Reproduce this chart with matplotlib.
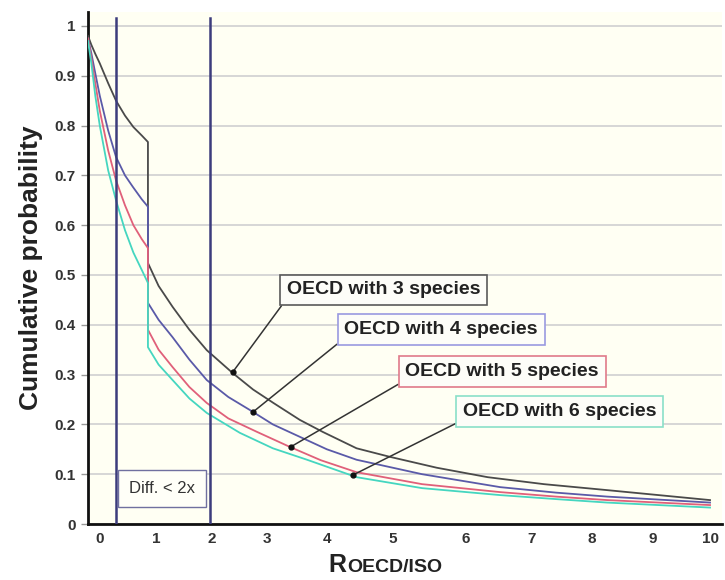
import numpy as np
import matplotlib
matplotlib.use("Agg")
import matplotlib.pyplot as plt

plt.rcParams["font.family"] = ["Liberation Sans", "DejaVu Sans"]

# --------------------------------------------------------------------------- #
# Data                                            #
# --------------------------------------------------------------------------- #
species = ["3", "4", "5", "6"]

x3 = [-0.21, -0.15, -0.08, 0, 0.15, 0.29, 0.45, 0.6, 0.75, 0.86, 0.86, 1.05,
      1.3, 1.6, 1.91, 2.38, 2.75, 3.11, 3.55, 3.93, 4.45, 4.95, 5.6, 6.33,
      7.2, 8.25, 9.1, 10]
y3 = [0.98, 0.962, 0.944, 0.925, 0.885, 0.85, 0.82, 0.797, 0.78, 0.767, 0.524,
      0.478, 0.436, 0.39, 0.349, 0.303, 0.27, 0.243, 0.209, 0.185, 0.152,
      0.135, 0.113, 0.094, 0.08, 0.068, 0.058, 0.048]

x4 = [-0.21, -0.15, -0.08, 0, 0.15, 0.29, 0.45, 0.59, 0.75, 0.86, 0.86, 1.05,
      1.3, 1.6, 1.91, 2.3, 2.69, 3.1, 3.55, 4.0, 4.45, 5.4, 6.52, 7.4, 8.25,
      9.1, 10]
y4 = [0.975, 0.945, 0.905, 0.86, 0.79, 0.737, 0.70, 0.677, 0.652, 0.637, 0.444,
      0.41, 0.375, 0.33, 0.289, 0.255, 0.229, 0.2, 0.175, 0.15, 0.129, 0.1,
      0.074, 0.063, 0.055, 0.049, 0.043]

x5 = [-0.21, -0.15, -0.08, 0, 0.15, 0.29, 0.45, 0.6, 0.75, 0.86, 0.86, 1.05,
      1.3, 1.6, 1.91, 2.3, 2.82, 3.38, 3.9, 4.45, 5.4, 6.52, 7.4, 8.25, 9.1,
      10]
y5 = [0.975, 0.935, 0.885, 0.83, 0.75, 0.69, 0.64, 0.6, 0.572, 0.554, 0.39,
      0.35, 0.315, 0.275, 0.243, 0.212, 0.185, 0.155, 0.128, 0.104, 0.08,
      0.064, 0.055, 0.048, 0.043, 0.038]

x6 = [-0.21, -0.15, -0.08, 0, 0.15, 0.29, 0.45, 0.6, 0.75, 0.86, 0.86, 1.05,
      1.3, 1.6, 1.91, 2.51, 3.1, 3.67, 4.45, 5.4, 6.52, 7.4, 8.25, 9.1, 10]
y6 = [0.97, 0.925, 0.86, 0.8, 0.71, 0.65, 0.59, 0.545, 0.51, 0.484, 0.355,
      0.32, 0.289, 0.252, 0.223, 0.183, 0.152, 0.129, 0.094, 0.072, 0.058,
      0.05, 0.043, 0.038, 0.033]

# callouts: point on curve and centre of the label box
point_x = [2.38, 2.75, 3.40, 4.39]
point_y = [0.305, 0.225, 0.155, 0.098]
label_x = [4.86, 5.66, 6.55, 7.46]
label_y = [0.47, 0.39, 0.306, 0.226]

# the two vertical markers bounding the "Diff. < 2x" band
band_lo, band_hi = 0.29, 1.96

x_ticks = list(range(0, 11))
y_ticks = [round(0.1 * i, 1) for i in range(11)]
y_labels = ["0"] + [f"{v:g}" for v in y_ticks[1:-1]] + ["1"]

# --------------------------------------------------------------------------- #
# The original x axis is not evenly spaced; mimic it with a piecewise scale    #
# --------------------------------------------------------------------------- #
tick_px = np.array([100, 156, 212, 267, 327, 393, 466, 532, 592, 653, 710], float)
tick_val = np.array(x_ticks, float)


def fwd(x):
    x = np.asarray(x, float)
    out = np.interp(x, tick_val, tick_px)
    out = np.where(x < 0, tick_px[0] + x * 56.0, out)
    out = np.where(x > 10, tick_px[-1] + (x - 10) * 57.0, out)
    return out


def inv(p):
    p = np.asarray(p, float)
    out = np.interp(p, tick_px, tick_val)
    out = np.where(p < tick_px[0], (p - tick_px[0]) / 56.0, out)
    out = np.where(p > tick_px[-1], 10 + (p - tick_px[-1]) / 57.0, out)
    return out


colors = ["#4a4a4a", "#5a5aa8", "#e0607a", "#45d6c0"]
box_edges = ["#5a5a5a", "#9a9ae0", "#e07a8a", "#8ae0c8"]

fig = plt.figure(figsize=(7.25, 5.8), dpi=100)
ax = fig.add_axes([88 / 725, 56 / 580, (722 - 88) / 725, (524 - 12) / 580])
ax.set_facecolor("#fffff3")
ax.set_xscale("function", functions=(fwd, inv))
ax.set_xlim(-0.21, 10.21)
ax.set_ylim(0, 1.028)

ax.set_yticks(y_ticks)
ax.set_yticklabels(y_labels)
ax.set_xticks(x_ticks)
ax.set_xticklabels([str(t) for t in x_ticks])
ax.tick_params(axis="y", length=5, width=1, color="#999999", pad=4,
               labelsize=11, labelcolor="#333333")
ax.tick_params(axis="x", length=0, pad=6, labelsize=11, labelcolor="#333333")
for lab in ax.get_xticklabels() + ax.get_yticklabels():
    lab.set_fontweight("bold")

ax.grid(axis="y", color="#d6d6d6", lw=1.4)
ax.set_axisbelow(True)
for side in ("top", "right"):
    ax.spines[side].set_visible(False)
for side in ("left", "bottom"):
    ax.spines[side].set_linewidth(2)
    ax.spines[side].set_color("#111111")

for xs, ys, c in zip([x3, x4, x5, x6], [y3, y4, y5, y6], colors):
    ax.plot(xs, ys, color=c, lw=1.3, zorder=3)

for xv in (band_lo, band_hi):
    ax.axvline(xv, ymax=(1.015 / 1.028), color="#3c3c7c", lw=1.8, zorder=4)

ax.text((band_lo + band_hi) / 2 - 0.02, 0.071, "Diff. < 2x", ha="center",
        va="center", fontsize=12, color="#333333", zorder=5,
        bbox=dict(boxstyle="square,pad=0.65", fc="#fffff8", ec="#7070a0", lw=1))

for i, sp in enumerate(species):
    ax.annotate(f"OECD with {sp} species", xy=(point_x[i], point_y[i]),
                xytext=(label_x[i], label_y[i]), ha="center", va="center",
                fontsize=14, fontweight="bold", color="#222222", zorder=6,
                bbox=dict(boxstyle="square,pad=0.35", fc="#fdfdf8",
                          ec=box_edges[i], lw=1.2),
                arrowprops=dict(arrowstyle="-", color="#333333", lw=1.1,
                                relpos=(0, 0), shrinkA=0, shrinkB=0))
ax.plot(point_x, point_y, "o", color="#111111", ms=3.5, zorder=7)

ax.set_ylabel("Cumulative probability", fontsize=19, fontweight="bold",
              color="#222222", labelpad=8)

r = fig.text(328 / 725, 3 / 580, "R", fontsize=18, fontweight="bold",
             color="#222222", ha="left", va="bottom")
ax.annotate("OECD/ISO", xy=(1, 0), xycoords=r, xytext=(1, 1),
            textcoords="offset points", fontsize=14, fontweight="bold",
            color="#222222", ha="left", va="bottom", annotation_clip=False)

fig.savefig("out.png", dpi=100, facecolor="white")
